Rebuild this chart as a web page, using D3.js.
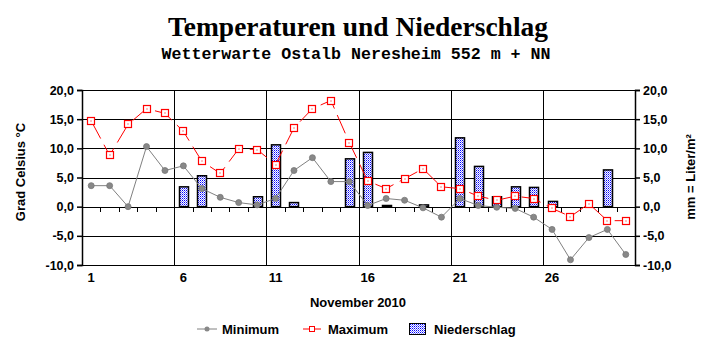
<!DOCTYPE html>
<html>
<head>
<meta charset="utf-8">
<script src="https://cdn.jsdelivr.net/npm/d3@7"></script>
<style>
    body { margin: 0; background: #fff; }
    svg { display: block; }
    text { font-family: "Liberation Sans", Arial, sans-serif; }
</style>
</head>
<body>
<svg id="chart" width="715" height="352"></svg>
<script>
// --- Data (November 2010) ---
const days = [1, 2, 3, 4, 5, 6, 7, 8, 9, 10, 11, 12, 13, 14, 15, 16, 17, 18, 19, 20, 21, 22, 23, 24, 25, 26, 27, 28, 29, 30];
const dayLabels = [1, 6, 11, 16, 21, 26];
const yTicks = [-10, -5, 0, 5, 10, 15, 20];

const minTemp = [3.6, 3.6, 0.0, 10.3, 6.2, 7.0, 3.1, 1.6, 0.7, 0.3, 1.4, 6.2, 8.4, 4.3, 4.3, 0.2, 1.4, 1.1, -0.2, -1.8, 1.4, 0.2, -0.1, -0.3, -1.8, -3.9, -9.1, -5.3, -3.9, -8.2];
const maxTemp = [14.7, 8.8, 14.1, 16.8, 16.0, 12.9, 7.8, 5.7, 9.9, 9.8, 7.2, 13.5, 16.8, 18.2, 11.0, 4.4, 3.1, 4.8, 6.5, 3.4, 3.1, 1.8, 1.1, 1.8, 1.4, -0.3, -1.7, 0.5, -2.4, -2.4];
const precip = [0, 0, 0, 0, 0, 3.4, 5.3, 0, 0, 1.7, 10.6, 0.7, 0, 0, 8.2, 9.3, 0.2, 0, 0.3, 0, 11.8, 6.9, 1.7, 3.4, 3.3, 0.9, 0, 0, 6.3, 0];

const svg = d3.select("#chart");
const plot = { left: 82, right: 635, top: 90, bottom: 265 };

// --- Pattern for the precipitation bars (blue dots on white) ---
const pat = svg.append("defs").append("pattern")
    .attr("id", "dots")
    .attr("width", 2).attr("height", 2)
    .attr("patternUnits", "userSpaceOnUse");
pat.append("rect").attr("width", 2).attr("height", 2).attr("fill", "#fff");
pat.append("rect").attr("width", 1).attr("height", 1).attr("fill", "#0000ff");
pat.append("rect").attr("x", 1).attr("y", 1).attr("width", 1).attr("height", 1).attr("fill", "#8080ff");

// --- Scales ---
const x = d3.scaleBand().domain(days).range([plot.left, plot.right]);
const y = d3.scaleLinear().domain([-10, 20]).range([plot.bottom, plot.top]);
const cx = d => x(d) + x.bandwidth() / 2;
const fmt = v => d3.format(".1f")(v).replace(".", ",").replace("−", "-");

// --- Titles ---
svg.append("text")
    .attr("x", 358).attr("y", 36)
    .attr("text-anchor", "middle")
    .attr("textLength", 380).attr("lengthAdjust", "spacingAndGlyphs")
    .style("font-family", "'Liberation Serif', 'Times New Roman', serif")
    .style("font-weight", "bold").style("font-size", "27px")
    .text("Temperaturen und Niederschlag");

svg.append("text")
    .attr("x", 356).attr("y", 59)
    .attr("text-anchor", "middle")
    .attr("textLength", 389).attr("lengthAdjust", "spacingAndGlyphs")
    .style("font-family", "'Liberation Mono', 'Courier New', monospace")
    .style("font-weight", "bold").style("font-size", "16px")
    .text("Wetterwarte Ostalb Neresheim 552 m + NN");

// --- Grid ---
const grid = svg.append("g").attr("stroke", "#000").attr("stroke-width", 1).attr("shape-rendering", "crispEdges");
grid.selectAll("line.h").data(yTicks).join("line")
    .attr("x1", plot.left).attr("x2", plot.right)
    .attr("y1", d => Math.round(y(d)) + 0.5).attr("y2", d => Math.round(y(d)) + 0.5);
grid.selectAll("line.v").data([6, 11, 16, 21, 26]).join("line")
    .attr("x1", d => Math.round(x(d)) + 0.5).attr("x2", d => Math.round(x(d)) + 0.5)
    .attr("y1", plot.top).attr("y2", plot.bottom);

// ticks on the zero line at each day boundary
grid.selectAll("line.t").data(days.slice(1)).join("line")
    .attr("x1", d => Math.round(x(d)) + 0.5).attr("x2", d => Math.round(x(d)) + 0.5)
    .attr("y1", Math.round(y(0))).attr("y2", Math.round(y(0)) + 5);

// --- Axes ---
const yLeft = svg.append("g").attr("transform", `translate(${plot.left},0)`)
    .call(d3.axisLeft(y).tickValues(yTicks).tickSize(5).tickFormat(fmt));
const yRight = svg.append("g").attr("transform", `translate(${plot.right},0)`)
    .call(d3.axisRight(y).tickValues(yTicks).tickSize(5).tickFormat(fmt));
[yLeft, yRight].forEach(a => {
    a.selectAll("path, line").attr("stroke", "#000").attr("stroke-width", 1.5);
    a.selectAll("text").attr("fill", "#000")
        .style("font-size", "12.5px").style("font-weight", "bold")
        .style("font-family", "'Liberation Sans', Arial, sans-serif");
});

const xAxis = svg.append("g").attr("transform", `translate(0,${plot.bottom})`)
    .call(d3.axisBottom(x).tickValues(dayLabels).tickSize(0).tickPadding(8));
xAxis.select(".domain").remove();
xAxis.selectAll("text").attr("fill", "#000")
    .style("font-size", "13px").style("font-weight", "bold")
    .style("font-family", "'Liberation Sans', Arial, sans-serif");

// --- Axis titles ---
svg.append("text")
    .attr("transform", "translate(25,172) rotate(-90)")
    .attr("text-anchor", "middle")
    .style("font-size", "13px").style("font-weight", "bold")
    .text("Grad Celsius °C");

svg.append("text")
    .attr("transform", "translate(695,177) rotate(-90)")
    .attr("text-anchor", "middle")
    .style("font-size", "13px").style("font-weight", "bold")
    .text("mm = Liter/m²");

svg.append("text")
    .attr("x", 358).attr("y", 307)
    .attr("text-anchor", "middle")
    .style("font-size", "13px").style("font-weight", "bold")
    .text("November 2010");

// --- Precipitation bars ---
const barW = 9;
svg.append("g").selectAll("rect").data(days.filter((d, i) => precip[i] > 0)).join("rect")
    .attr("x", d => Math.round(cx(d) - barW / 2) + 0.5)
    .attr("y", d => y(precip[d - 1]))
    .attr("width", barW)
    .attr("height", d => y(0) - y(precip[d - 1]))
    .attr("fill", "url(#dots)")
    .attr("stroke", "#000").attr("stroke-width", 1.5);

// --- Minimum line ---
const lineMin = d3.line().x(d => cx(d)).y(d => y(minTemp[d - 1]));
svg.append("path").datum(days)
    .attr("fill", "none").attr("stroke", "#808080").attr("stroke-width", 1)
    .attr("d", lineMin);
svg.append("g").selectAll("circle").data(days).join("circle")
    .attr("cx", d => cx(d)).attr("cy", d => y(minTemp[d - 1]))
    .attr("r", 3)
    .attr("fill", "#888").attr("stroke", "#777").attr("stroke-width", 0.8);

// --- Maximum line ---
const lineMax = d3.line().x(d => cx(d)).y(d => y(maxTemp[d - 1]));
svg.append("path").datum(days)
    .attr("fill", "none").attr("stroke", "#ff0000").attr("stroke-width", 1)
    .attr("stroke-dasharray", "20,7")
    .attr("d", lineMax);
const sq = svg.append("g").selectAll("g").data(days).join("g")
    .attr("transform", d => `translate(${Math.round(cx(d))},${Math.round(y(maxTemp[d - 1]))})`);
sq.append("rect")
    .attr("x", -3.5).attr("y", -3.5).attr("width", 7).attr("height", 7)
    .attr("fill", "#fff").attr("stroke", "#ff0000").attr("stroke-width", 1.2);
sq.append("rect")
    .attr("x", -0.5).attr("y", -0.5).attr("width", 1).attr("height", 1)
    .attr("fill", "#ff0000");

// --- Legend ---
const lg = svg.append("g");
const ly = 329;
lg.append("line").attr("x1", 197).attr("x2", 217).attr("y1", ly).attr("y2", ly)
    .attr("stroke", "#808080");
lg.append("circle").attr("cx", 207).attr("cy", ly).attr("r", 2.5).attr("fill", "#888");
lg.append("text").attr("x", 222).attr("y", ly + 5)
    .style("font-size", "13px").style("font-weight", "bold").text("Minimum");

lg.append("line").attr("x1", 303).attr("x2", 321).attr("y1", ly).attr("y2", ly)
    .attr("stroke", "#ff0000");
lg.append("rect").attr("x", 309.5).attr("y", ly - 2.5).attr("width", 5).attr("height", 5)
    .attr("fill", "#fff").attr("stroke", "#ff0000");
lg.append("text").attr("x", 328).attr("y", ly + 5)
    .style("font-size", "13px").style("font-weight", "bold").text("Maximum");

lg.append("rect").attr("x", 409.5).attr("y", ly - 5.5).attr("width", 16).attr("height", 11)
    .attr("fill", "url(#dots)").attr("stroke", "#000");
lg.append("text").attr("x", 434).attr("y", ly + 5)
    .style("font-size", "13px").style("font-weight", "bold").text("Niederschlag");
</script>
</body>
</html>
